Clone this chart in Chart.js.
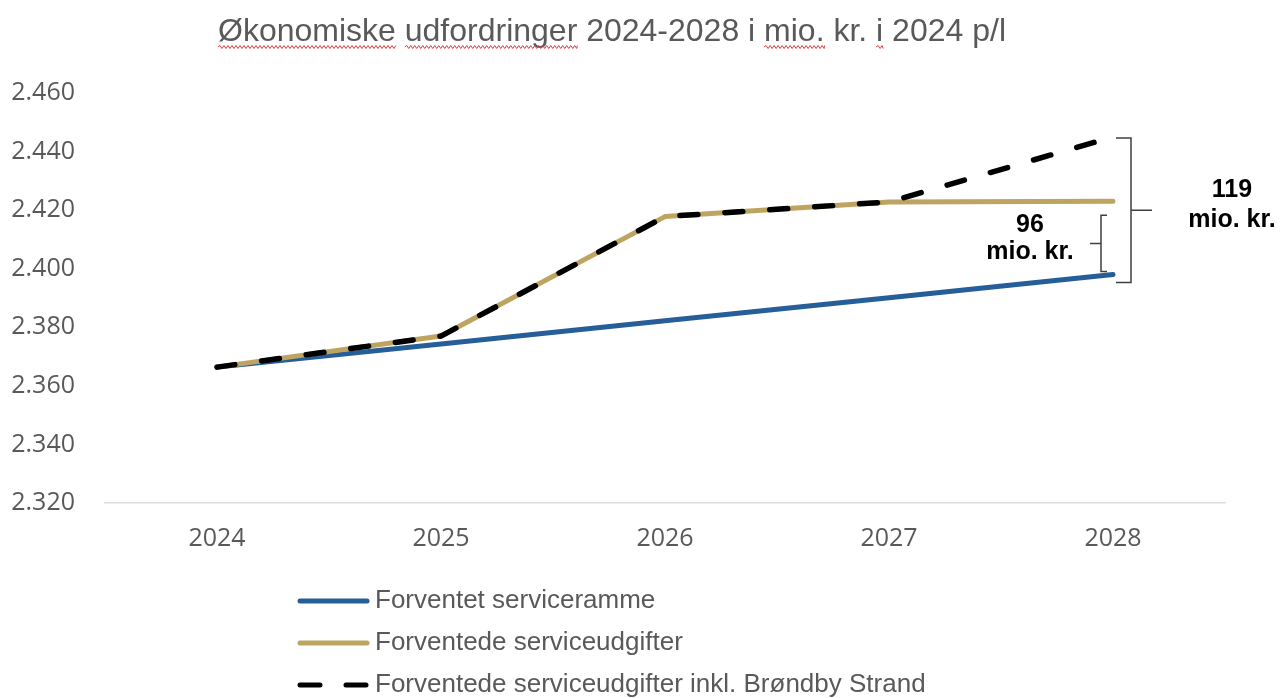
<!DOCTYPE html>
<html>
<head>
<meta charset="utf-8">
<script src="https://cdn.jsdelivr.net/npm/chart.js@4"></script>
<style>
  html, body { margin: 0; padding: 0; background: #fff; }
  #wrap { width: 1280px; height: 698px; }
</style>
</head>
<body>
<div id="wrap"><canvas id="chart" width="1280" height="698"></canvas></div>
<script>
// data (mio. kr.)
const years = ['2024', '2025', '2026', '2027', '2028'];
const serviceramme = [2366.4, 2374.3, 2382.2, 2390.1, 2398.0];
const serviceudgifter = [2366.4, 2377.0, 2417.8, 2422.8, 2423.0];
const udgifterInklBS = [2366.4, 2377.0, 2417.8, 2422.8, 2445.0];
const seriesNames = [
    'Forventet serviceramme',
    'Forventede serviceudgifter',
    'Forventede serviceudgifter inkl. Brøndby Strand'
];
const yMin = 2320, yMax = 2460, yStep = 20;
const gapLabels = [['96', 'mio. kr.'], ['119', 'mio. kr.']];
const titleText = 'Økonomiske udfordringer 2024-2028 i mio. kr. i 2024 p/l';

const GREY = '#595959';

function fmtDk(v) {
    const th = Math.floor(v / 1000);
    return th + '.' + String(Math.round(v % 1000)).padStart(3, '0');
}

function wavy(ctx, x0, x1, y) {
    ctx.beginPath();
    ctx.moveTo(x0, y);
    let up = true;
    for (let x = x0; x < x1; x += 2) {
        ctx.lineTo(Math.min(x + 2, x1), y + (up ? -1.5 : 1.5));
        up = !up;
    }
    ctx.stroke();
}

// title, gap brackets and legend drawn on top of the chart
const extras = {
    id: 'extras',
    afterDraw(chart) {
        const ctx = chart.ctx;
        const xs = chart.scales.x, ys = chart.scales.y;
        ctx.save();

        // title
        ctx.font = '32px "Liberation Sans", Arial, sans-serif';
        ctx.fillStyle = GREY;
        ctx.textBaseline = 'alphabetic';
        const tw = ctx.measureText(titleText).width;
        const tx = 612 - tw / 2, ty = 41;
        ctx.textAlign = 'left';
        ctx.fillText(titleText, tx, ty);
        // spell-check squiggles under some words
        ctx.strokeStyle = '#e23b3b';
        ctx.lineWidth = 1;
        ['Økonomiske', 'udfordringer', 'mio.', 'i'].forEach((w) => {
            const idx = w === 'i' ? titleText.indexOf(' i 2024') + 1 : titleText.indexOf(w);
            const sx = tx + ctx.measureText(titleText.slice(0, idx)).width;
            wavy(ctx, sx, sx + ctx.measureText(w).width, ty + 6);
        });

        // brackets at 2028
        const px = xs.getPixelForValue(years.length - 1);
        const yBS = ys.getPixelForValue(udgifterInklBS[4]);
        const yU = ys.getPixelForValue(serviceudgifter[4]);
        const yR = ys.getPixelForValue(serviceramme[4]);
        ctx.strokeStyle = '#404040';
        ctx.lineWidth = 1.5;
        // big one: }
        let top = yBS + 1, bot = yR + 8, mid = (top + bot) / 2;
        ctx.beginPath();
        ctx.moveTo(px + 3, top); ctx.lineTo(px + 18, top);
        ctx.lineTo(px + 18, bot); ctx.lineTo(px + 3, bot);
        ctx.moveTo(px + 18, mid); ctx.lineTo(px + 39, mid);
        ctx.stroke();
        // small one: {
        top = yU + 14; bot = yR - 3; mid = (top + bot) / 2;
        ctx.beginPath();
        ctx.moveTo(px - 6, top); ctx.lineTo(px - 12, top);
        ctx.lineTo(px - 12, bot); ctx.lineTo(px - 6, bot);
        ctx.moveTo(px - 12, mid); ctx.lineTo(px - 23, mid);
        ctx.stroke();

        ctx.font = 'bold 25px "Liberation Sans", Arial, sans-serif';
        ctx.fillStyle = '#000';
        ctx.textAlign = 'center';
        ctx.textBaseline = 'middle';
        ctx.fillText(gapLabels[0][0], px - 83, 225);
        ctx.fillText(gapLabels[0][1], px - 83, 252);
        ctx.fillText(gapLabels[1][0], px + 119, 190);
        ctx.fillText(gapLabels[1][1], px + 119, 220);

        // legend, one row per series
        const rows = [601, 643, 685];
        ctx.font = '26px "Liberation Sans", Arial, sans-serif';
        ctx.textAlign = 'left';
        chart.data.datasets.forEach((ds, i) => {
            const ly = rows[i];
            ctx.strokeStyle = ds.borderColor;
            ctx.lineWidth = 5;
            ctx.lineCap = 'round';
            ctx.setLineDash(ds.borderDash ? [20, 26] : []);
            ctx.beginPath();
            ctx.moveTo(300, ly); ctx.lineTo(367, ly);
            ctx.stroke();
            ctx.setLineDash([]);
            ctx.fillStyle = GREY;
            ctx.fillText(ds.label, 375, ly);
        });
        ctx.restore();
    }
};

new Chart(document.getElementById('chart'), {
    type: 'line',
    data: {
        labels: years,
        datasets: [
            {
                label: seriesNames[0],
                data: serviceramme,
                borderColor: '#255e99',
                borderWidth: 5,
                order: 2
            },
            {
                label: seriesNames[1],
                data: serviceudgifter,
                borderColor: '#bea461',
                borderWidth: 5,
                order: 1
            },
            {
                label: seriesNames[2],
                data: udgifterInklBS,
                borderColor: '#000000',
                borderWidth: 5.5,
                borderDash: [18, 27],
                borderCapStyle: 'round',
                order: 0
            }
        ]
    },
    options: {
        responsive: false,
        animation: false,
        devicePixelRatio: 1,
        elements: {
            point: { radius: 0 },
            line: { tension: 0, borderJoinStyle: 'round', borderCapStyle: 'round' }
        },
        layout: { padding: { top: 93, right: 55, bottom: 135, left: 0 } },
        plugins: {
            legend: { display: false },
            tooltip: { enabled: false },
            title: { display: false }
        },
        scales: {
            x: {
                offset: true,
                grid: { display: false, drawTicks: false },
                border: { display: true, color: '#dcdcdc', width: 1.5 },
                ticks: {
                    color: GREY,
                    padding: 21,
                    font: { family: '"Open Sans"', size: 25 }
                },
                afterFit(scale) { scale.height = 60; }
            },
            y: {
                min: yMin,
                max: yMax,
                grid: { display: false, drawTicks: false },
                border: { display: false },
                ticks: {
                    stepSize: yStep,
                    color: GREY,
                    padding: 30,
                    font: { family: '"Open Sans"', size: 25 },
                    callback: (v) => fmtDk(v)
                },
                afterFit(scale) { scale.width = 105; }
            }
        }
    },
    plugins: [extras]
});
</script>
</body>
</html>
